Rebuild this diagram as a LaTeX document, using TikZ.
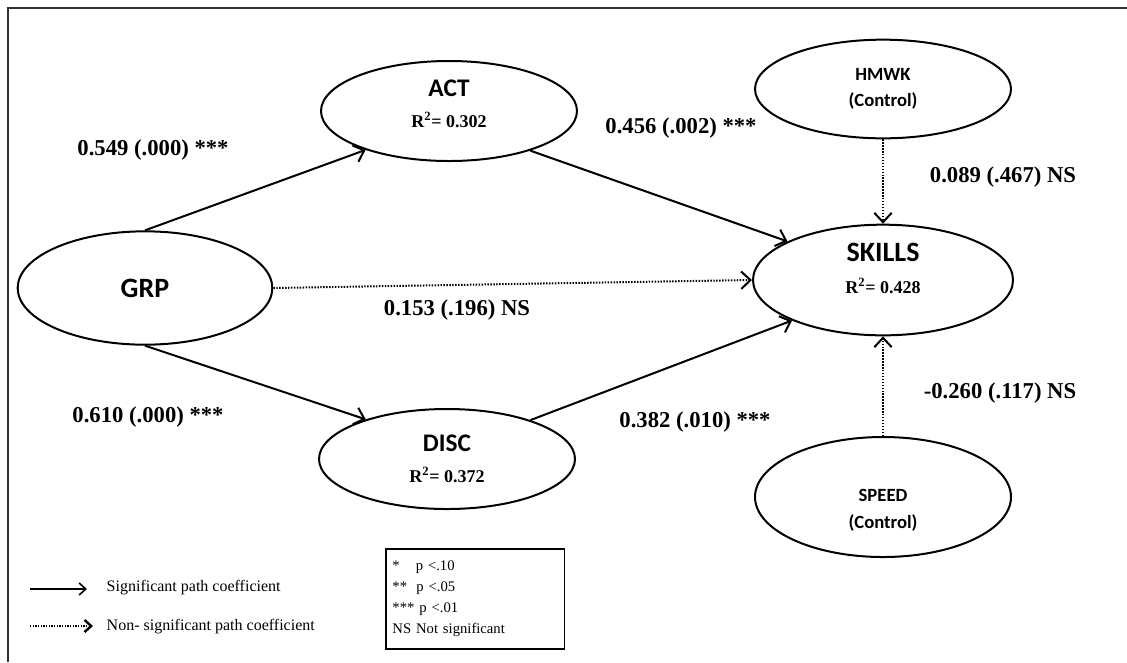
\documentclass[tikz,border=0pt]{standalone}
\usepackage{fontspec}
\setmainfont{Liberation Serif}
\newfontfamily\calfont{Carlito}
\usetikzlibrary{arrows.meta}
\usetikzlibrary{positioning}
\usetikzlibrary{shapes.geometric}
\newcommand{\rtwo}[1]{{\rmfamily\bfseries\fontsize{13.5}{15}\selectfont R\textsuperscript{2}= #1}}

\begin{document}
\begin{tikzpicture}[x=0.75pt,y=-0.75pt,
  var/.style={draw,ellipse,line width=1.5pt,inner sep=0pt,align=center,font=\calfont\bfseries\fontsize{19}{23}\selectfont},
  ctrl/.style={var,minimum width=192pt,font=\calfont\bfseries\fontsize{14}{20}\selectfont},
  sig/.style={line width=1.5pt,-{Straight Barb[length=7pt,width=13pt,line width=1.5pt]}},
  ns/.style={line width=1.5pt,dash pattern=on 1.1pt off 1.1pt,-{Straight Barb[length=7pt,width=13pt,line width=1.5pt]}},
  coef/.style={font=\bfseries\fontsize{17}{19}\selectfont},
  keytext/.style={font=\fontsize{12}{14}\selectfont,anchor=west}]
  \useasboundingbox (0,0) rectangle (1127,662);
  \draw[line width=1.8pt,black!80] (8,662) -- (8,8) -- (1127,8);

  \node[var,minimum width=191pt,minimum height=85pt,font=\calfont\bfseries\fontsize{21}{24}\selectfont] (grp) at (145,288) {GRP};
  \node[var,minimum width=192pt,minimum height=75pt] (act) at (449,111) {ACT\\\rtwo{0.302}\rule[-11pt]{0pt}{11pt}};
  \node[var,minimum width=192pt,minimum height=75pt] (disc) at (447,459) {DISC\\\rtwo{0.372}};
  \node[var,minimum width=195pt,minimum height=83pt,font=\calfont\bfseries\fontsize{21}{24}\selectfont] (skills) at (883,280) {SKILLS\\\rtwo{0.428}\rule[-17pt]{0pt}{17pt}};
  \node[ctrl,minimum height=74pt] (hmwk) at (883,89) {HMWK\\(Control)};
  \node[ctrl,minimum height=90pt] (speed) at (883,497) {\rule{0pt}{29pt}SPEED\\(Control)};

  \draw[sig] (grp.north) -- (act.205);
  \draw[sig] (grp.south) -- (disc.154);
  \draw[ns] (grp.east) -- (skills.west);
  \draw[sig] (act.-26) -- (skills.158);
  \draw[sig] (disc.25) -- (skills.204);
  \draw[ns] (hmwk.south) -- (skills.north);
  \draw[ns] (speed.north) -- (skills.south);

  \node[coef] (c1) at (153,150) {0.549 (.000) ***};
  \node[coef] (c2) at (148,417) {0.610 (.000) ***};
  \node[coef] (c3) at (457,310) {0.153 (.196) NS};
  \node[coef] (c4) at (681,128) {0.456 (.002) ***};
  \node[coef] (c5) at (695,422) {0.382 (.010) ***};
  \node[coef] (c6) at (1003,177) {0.089 (.467) NS};
  \node[coef] (c7) at (1000,393) {-0.260 (.117) NS};

  % legend
  \coordinate (s1) at (30,589);
  \coordinate (s2) at (87,589);
  \coordinate (n1) at (30,626);
  \coordinate (n2) at (93,626);
  \draw[line width=1.2pt,-{Straight Barb[length=5pt,width=9pt,line width=1.2pt]}] (s1) -- (s2);
  \draw[line width=1.2pt,dash pattern=on 1pt off 1pt,-{Straight Barb[length=5pt,width=9pt,line width=1.8pt]}] (n1) -- (n2);
  \node[keytext] (sigtxt) at (102,588) {Significant path coefficient};
  \node[keytext] (nstxt) at (102,627) {Non- significant path coefficient};
  \node[draw,line width=1.2pt,anchor=north west,align=left,text width=124pt,minimum height=75pt,
    inner sep=5pt,font=\fontsize{11}{15.8}\selectfont] (key) at (385,548)
    {{*}\hspace{12pt}p <.10\\{**}\hspace{7pt}p <.05\\{***} p <.01\\NS Not significant};
\end{tikzpicture}
\end{document}
